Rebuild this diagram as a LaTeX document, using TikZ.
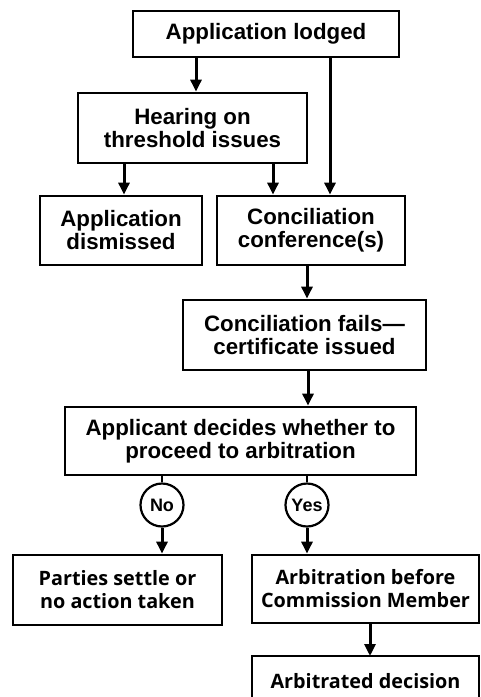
\documentclass[tikz,border=0pt]{standalone}
\usepackage{fontspec}
\setmainfont{Liberation Sans}
\newfontfamily\lowfont{Open Sans}
\usetikzlibrary{arrows.meta}
\tikzset{
  box/.style={draw=black, line width=2.8pt, align=center, inner sep=0pt,
    font=\fontsize{22.3}{23}\selectfont\bfseries},
  lowbox/.style={box, font=\lowfont\fontsize{19.8}{23}\selectfont\bfseries},
  ring/.style={draw=black, line width=2.2pt, circle, inner sep=0pt, minimum size=43pt,
    font=\fontsize{18}{19}\selectfont\bfseries},
  arr/.style={line width=3pt, -{Triangle[width=11pt,length=12pt]}},
  link/.style={line width=2.6pt},
}
\begin{document}
\begin{tikzpicture}[x=1pt,y=-1pt]
\useasboundingbox (0,0) rectangle (480,697);
\clip (0,0) rectangle (480,697);
\node[box, minimum width=266pt, minimum height=46pt] (lodged) at (266,34) {Application lodged};
\node[box, minimum width=229pt, minimum height=70pt] (hearing) at (192.5,128) {Hearing on\\threshold issues};
\node[box, minimum width=162pt, minimum height=69pt] (dismissed) at (121,230.5) {Application\\dismissed};
\node[box, minimum width=188pt, minimum height=69pt] (conf) at (311,230.5) {Conciliation\\conference(s)};
\node[box, minimum width=243pt, minimum height=70pt] (fails) at (304.5,335) {Conciliation fails—\\certificate issued};
\node[box, minimum width=351pt, minimum height=68pt] (decides) at (240.5,441) {Applicant decides whether to\\proceed to arbitration};
\node[ring] (no) at (162,505) {No};
\node[ring] (yes) at (307,505) {Yes};
\node[lowbox, minimum width=209pt, minimum height=70pt] (parties) at (117.5,590) {Parties settle or\\no action taken};
\node[lowbox, minimum width=227pt, minimum height=68pt] (arb) at (365.5,589) {Arbitration before\\Commission Member};
\draw[line width=2.8pt] (252,656) rectangle (479,740);
\node[lowbox, draw=none] (decision) at (365.5,681) {Arbitrated decision};
\coordinate (c1) at (196,0);
\coordinate (c2) at (330,0);
\coordinate (c3) at (124,0);
\coordinate (c4) at (273,0);
\coordinate (c5) at (307,0);
\coordinate (c6) at (308,0);
\coordinate (c7) at (370,0);
\draw[arr] (c1 |- lodged.south) -- (c1 |- hearing.north);
\draw[arr] (c2 |- lodged.south) -- (c2 |- conf.north);
\draw[arr] (c3 |- hearing.south) -- (c3 |- dismissed.north);
\draw[arr] (c4 |- hearing.south) -- (c4 |- conf.north);
\draw[arr] (c5 |- conf.south) -- (c5 |- fails.north);
\draw[arr] (c6 |- fails.south) -- (c6 |- decides.north);
\draw[link] (no |- decides.south) -- (no.north);
\draw[link] (yes |- decides.south) -- (yes.north);
\draw[arr] (no.south) -- (no |- parties.north);
\draw[arr] (yes.south) -- (yes |- arb.north);
\draw[arr] (c7 |- arb.south) -- (c7 |- 0,656);
\end{tikzpicture}
\end{document}
